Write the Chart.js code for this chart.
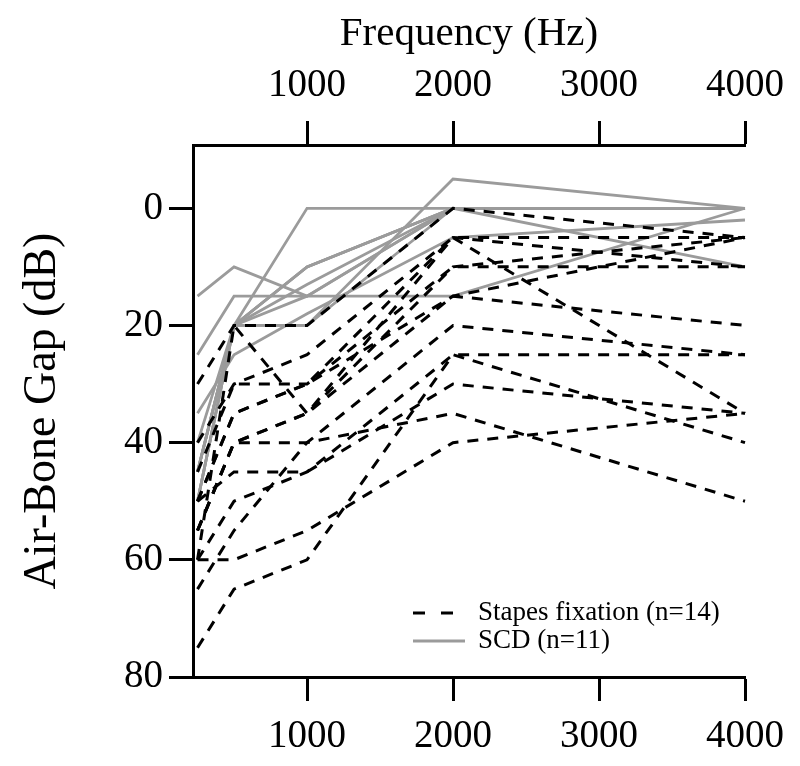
<!DOCTYPE html>
<html>
<head>
<meta charset="utf-8">
<script src="https://cdn.jsdelivr.net/npm/chart.js@4"></script>
<style>
  html, body { margin: 0; padding: 0; background: #fff; }
  #wrap { width: 800px; height: 766px; }
</style>
</head>
<body>
<div id="wrap"><canvas id="gapChart" width="800" height="766"></canvas></div>
<script>
// frequencies (Hz) shared by every curve
var freqs = [250, 500, 1000, 2000, 4000];

// air-bone gap (dB), stapes fixation, one row per ear
var stapes = [
    [30, 20, 20, 0, 5],
    [60, 20, 35, 5, 35],
    [40, 30, 25, 5, 5],
    [50, 35, 30, 5, 10],
    [55, 40, 35, 10, 5],
    [45, 30, 30, 10, 10],
    [50, 35, 30, 15, 5],
    [55, 40, 35, 15, 20],
    [65, 55, 40, 20, 25],
    [60, 50, 45, 25, 25],
    [75, 65, 60, 25, 40],
    [50, 45, 45, 30, 35],
    [55, 40, 40, 35, 50],
    [60, 60, 55, 40, 35]
];

// air-bone gap (dB), superior canal dehiscence
var scd = [
    [15, 10, 15, 0, 0],
    [25, 15, 15, 15, 0],
    [45, 20, 0, 0, 0],
    [45, 20, 10, 0, 10],
    [50, 20, 20, -5, 0],
    [35, 25, 18, 5, 2],
    [40, 20, 15, 0, 0],
    [50, 20, 13, 0, 0],
    [50, 20, 10, 0, 0],
    [45, 20, 20, 0, 0],
    [45, 20, 10, 0, 0]
];

var xTicks = [1000, 2000, 3000, 4000];
var yTicks = [0, 20, 40, 60, 80];

var serif = "'Liberation Serif', 'Times New Roman', serif";
var greyCol = "#9b9b9b";

function toPoints(row) {
    return row.map(function (v, i) { return { x: freqs[i], y: v }; });
}

var datasets = [];
stapes.forEach(function (row) {
    datasets.push({
        data: toPoints(row),
        borderColor: "#000",
        borderWidth: 3,
        borderDash: [11, 9],
        pointRadius: 0,
        tension: 0,
        fill: false,
        clip: false
    });
});
scd.forEach(function (row) {
    datasets.push({
        data: toPoints(row),
        borderColor: greyCol,
        borderWidth: 2.8,
        pointRadius: 0,
        tension: 0,
        fill: false,
        clip: false
    });
});

// legend drawn inside the plot, lower right
var legendBox = {
    id: "legendBox",
    afterDraw: function (chart) {
        var c = chart.ctx;
        var a = chart.chartArea;
        var x0 = a.left + 220, y1 = a.bottom - 64, y2 = a.bottom - 36;
        c.save();
        c.lineWidth = 3;
        c.strokeStyle = "#000";
        c.setLineDash([12, 16]);
        c.beginPath(); c.moveTo(x0, y1); c.lineTo(x0 + 45, y1); c.stroke();
        c.setLineDash([]);
        c.lineWidth = 2.8;
        c.strokeStyle = greyCol;
        c.beginPath(); c.moveTo(x0, y2); c.lineTo(x0 + 52, y2); c.stroke();
        c.fillStyle = "#000";
        c.font = "27px " + serif;
        c.textBaseline = "middle";
        c.fillText("Stapes fixation (n=14)", x0 + 65, y1);
        c.fillText("SCD (n=11)", x0 + 65, y2);
        c.restore();
    }
};

function axisGrid() {
    return { display: true, drawOnChartArea: false, drawTicks: true, tickLength: 24, tickWidth: 3, tickColor: "#000" };
}

function plain(v) { return String(v); }

var ctx = document.getElementById("gapChart").getContext("2d");
var gapChart = new Chart(ctx, {
    type: "line",
    data: { datasets: datasets },
    options: {
        responsive: false,
        animation: false,
        layout: { padding: { left: 0, right: 55, top: 0, bottom: 0 } },
        plugins: { legend: { display: false }, tooltip: { enabled: false } },
        scales: {
            x: {
                type: "linear",
                position: "bottom",
                min: 219,
                max: 4000,
                afterBuildTicks: function (s) { s.ticks = xTicks.map(function (v) { return { value: v }; }); },
                afterFit: function (s) { s.height = 89; },
                grid: axisGrid(),
                border: { display: true, color: "#000", width: 3 },
                ticks: { color: "#000", font: { family: serif, size: 39 }, padding: 12, maxRotation: 0, callback: plain }
            },
            x2: {
                type: "linear",
                position: "top",
                min: 219,
                max: 4000,
                afterBuildTicks: function (s) { s.ticks = xTicks.map(function (v) { return { value: v }; }); },
                afterFit: function (s) { s.height = 145; },
                grid: axisGrid(),
                border: { display: true, color: "#000", width: 3 },
                ticks: { color: "#000", font: { family: serif, size: 39 }, padding: 12, maxRotation: 0, callback: plain },
                title: { display: true, text: "Frequency (Hz)", color: "#000", font: { family: serif, size: 41 }, padding: { top: 10, bottom: 0 } }
            },
            y: {
                type: "linear",
                reverse: true,
                min: -10.8,
                max: 80,
                afterBuildTicks: function (s) { s.ticks = yTicks.map(function (v) { return { value: v }; }); },
                afterFit: function (s) { s.width = 193; },
                grid: axisGrid(),
                border: { display: true, color: "#000", width: 3 },
                ticks: { color: "#000", font: { family: serif, size: 39 }, padding: 6, callback: plain },
                title: { display: true, text: "Air-Bone Gap (dB)", color: "#000", font: { family: serif, size: 46 }, padding: { top: 15, bottom: 0 } }
            }
        }
    },
    plugins: [legendBox]
});
</script>
</body>
</html>
